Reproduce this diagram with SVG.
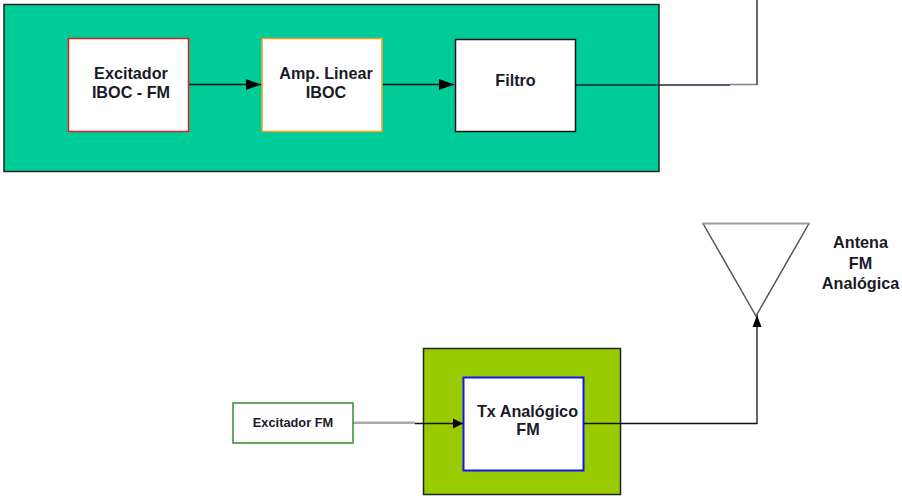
<svg xmlns="http://www.w3.org/2000/svg" width="902" height="496" viewBox="0 0 902 496">
<style>
text{font-family:"Liberation Sans",Arial,sans-serif;font-weight:700;fill:#1a1a2a;text-anchor:middle;font-size:16.200px}
.b{fill:#fff;stroke-width:1.500}
.c{fill:none;stroke:#111;stroke-width:1.300}
</style>
<defs><marker id="a" markerUnits="userSpaceOnUse" markerWidth="16" markerHeight="12" refX="15" refY="6" orient="auto"><path d="M0 .5L15 6L0 11.500Z" fill="#000"/></marker>
<marker id="s" markerUnits="userSpaceOnUse" markerWidth="11" markerHeight="11" refX="10" refY="5.500" orient="auto"><path d="M0 .5L10 5.500L0 10.500Z" fill="#000"/></marker>
<marker id="t" markerUnits="userSpaceOnUse" markerWidth="13" markerHeight="10" refX="12" refY="5" orient="auto"><path d="M0 .5L12 5L0 9.500Z" fill="#000"/></marker></defs>
<g id="iboc-panel"><rect x="4" y="4.500" width="655" height="167" fill="#00cc99" stroke="#222" stroke-width="1.500"/></g>
<g id="analog-panel"><rect x="423.500" y="348.500" width="197" height="146" fill="#99cc00" stroke="#222" stroke-width="1.500"/></g>
<g id="connectors">
<path class="c" d="M188 84.500H261" marker-end="url(#a)"/>
<path class="c" d="M382 84.500H454" marker-end="url(#a)"/>
<path class="c" d="M576 85H730" style="stroke:#224"/>
<path d="M730 84.500H757" fill="none" stroke="#888" stroke-width="1.600"/>
<path d="M757 85V0" fill="none" stroke="#444" stroke-width="1.600"/>
<path d="M353 422.700H415" fill="none" stroke="#aaa" stroke-width="2.400"/>
<path class="c" d="M415 423.500H463" marker-end="url(#s)"/>
<path class="c" d="M584 423.500H757V315" marker-end="url(#t)"/>
</g>
<g id="excitador-iboc"><rect class="b" x="68.500" y="38.500" width="120" height="93" stroke="#e02020"/><text x="131" y="78.500">Excitador</text><text x="131" y="97.500">IBOC - FM</text></g>
<g id="amp-linear"><rect class="b" x="262" y="38.500" width="120" height="93" stroke="#f0a020"/><text x="326" y="78.500">Amp. Linear</text><text x="326" y="97.500">IBOC</text></g>
<g id="filtro"><rect class="b" x="455.500" y="39.500" width="120" height="92" stroke="#111"/><text x="515.500" y="86">Filtro</text></g>
<g id="excitador-fm"><rect class="b" x="233" y="403" width="120" height="40" stroke="#309030"/><text x="293" y="426.500" style="font-size:12.800px">Excitador FM</text></g>
<g id="tx-analogico"><rect x="463.500" y="377.500" width="120" height="93" fill="#fff" stroke="#1414f0" stroke-width="2"/><text x="527.500" y="417">Tx Analógico</text><text x="528" y="435">FM</text></g>
<g id="antena"><path d="M703 223.500L756 316L809 223.500" fill="#fff" stroke="#555" stroke-width="1.500"/><path d="M702 223.500H810" fill="none" stroke="#999" stroke-width="2"/><text x="860.500" y="248">Antena</text><text x="860.500" y="269">FM</text><text x="860.500" y="289">Analógica</text></g>
</svg>
